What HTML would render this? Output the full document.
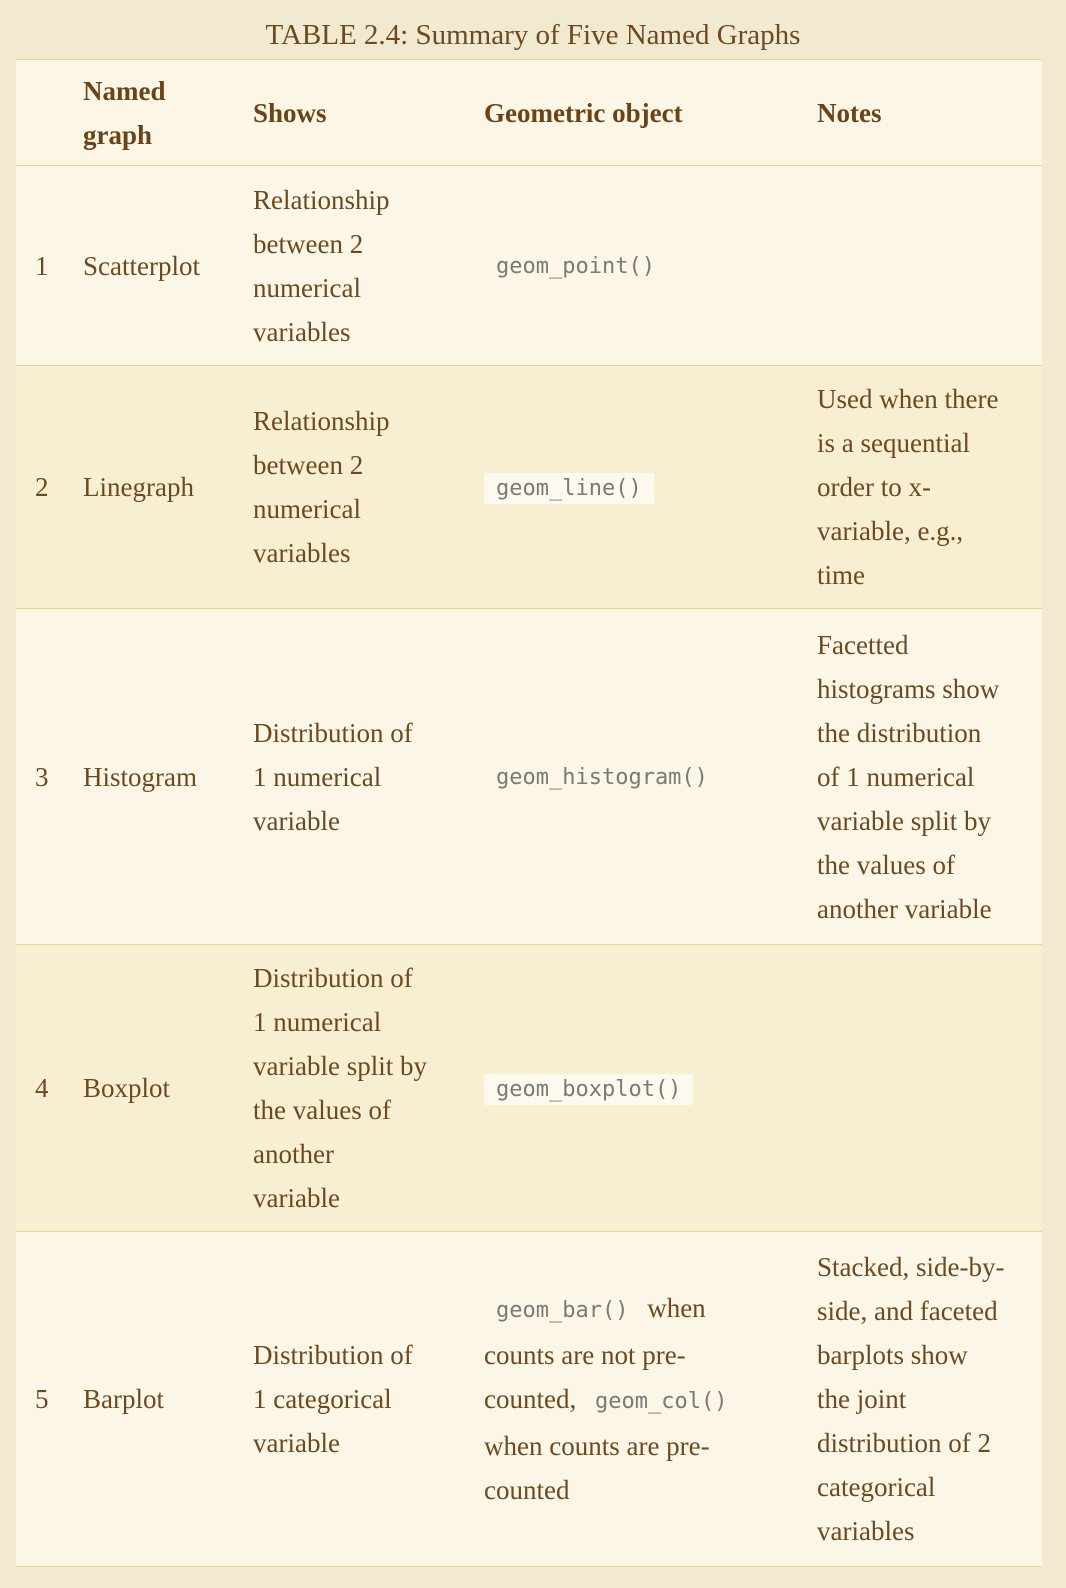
<!DOCTYPE html>
<html><head><meta charset="utf-8"><style>
html,body{margin:0;padding:0;background:#f2ead0;width:1066px;height:1588px;overflow:hidden}
body{font-family:"Liberation Serif",serif;color:#6b4a22}
.cap{position:absolute;top:17px;left:0;width:1066px;text-align:center;font-size:29px;line-height:36px}
table{position:absolute;left:16px;top:59px;width:1026px;border-collapse:collapse;table-layout:fixed}
td,th{font-size:27px;line-height:44px;white-space:nowrap;vertical-align:middle;text-align:left;padding:0 0 0 13px}
tr{border-top:1.5px solid #eed48c;border-bottom:1.5px solid #eed48c}
tr.o{background:#fbf6e5}
tr.e{background:#f8eed2}
th{font-weight:bold;color:#6b4316}
td.n,th.n{padding-left:19px}
code{font-family:"DejaVu Sans Mono","Liberation Mono",monospace;font-size:22px;color:#7a7a76;padding:3px 12px}
tr.e code{background:#fdf9ee}
</style></head><body>
<div class="cap">TABLE 2.4: Summary of Five Named Graphs</div>
<table>
<colgroup><col style="width:54px"><col style="width:170px"><col style="width:231px"><col style="width:333px"><col style="width:238px"></colgroup>
<tr class="o" style="height:106px"><th class="n"></th><th>Named<br>graph</th><th>Shows</th><th>Geometric object</th><th>Notes</th></tr>
<tr class="o" style="height:200px"><td class="n">1</td><td>Scatterplot</td><td>Relationship<br>between 2<br>numerical<br>variables</td><td><code>geom_point()</code></td><td></td></tr>
<tr class="e" style="height:243px"><td class="n">2</td><td>Linegraph</td><td>Relationship<br>between 2<br>numerical<br>variables</td><td><code>geom_line()</code></td><td>Used when there<br>is a sequential<br>order to x-<br>variable, e.g.,<br>time</td></tr>
<tr class="o" style="height:336px"><td class="n">3</td><td>Histogram</td><td>Distribution of<br>1 numerical<br>variable</td><td><code>geom_histogram()</code></td><td>Facetted<br>histograms show<br>the distribution<br>of 1 numerical<br>variable split by<br>the values of<br>another variable</td></tr>
<tr class="e" style="height:287px"><td class="n">4</td><td>Boxplot</td><td>Distribution of<br>1 numerical<br>variable split by<br>the values of<br>another<br>variable</td><td><code>geom_boxplot()</code></td><td></td></tr>
<tr class="o" style="height:335px"><td class="n">5</td><td>Barplot</td><td>Distribution of<br>1 categorical<br>variable</td><td><code>geom_bar()</code> when<br>counts are not pre-<br>counted, <code>geom_col()</code><br>when counts are pre-<br>counted</td><td>Stacked, side-by-<br>side, and faceted<br>barplots show<br>the joint<br>distribution of 2<br>categorical<br>variables</td></tr>
</table>
</body></html>
